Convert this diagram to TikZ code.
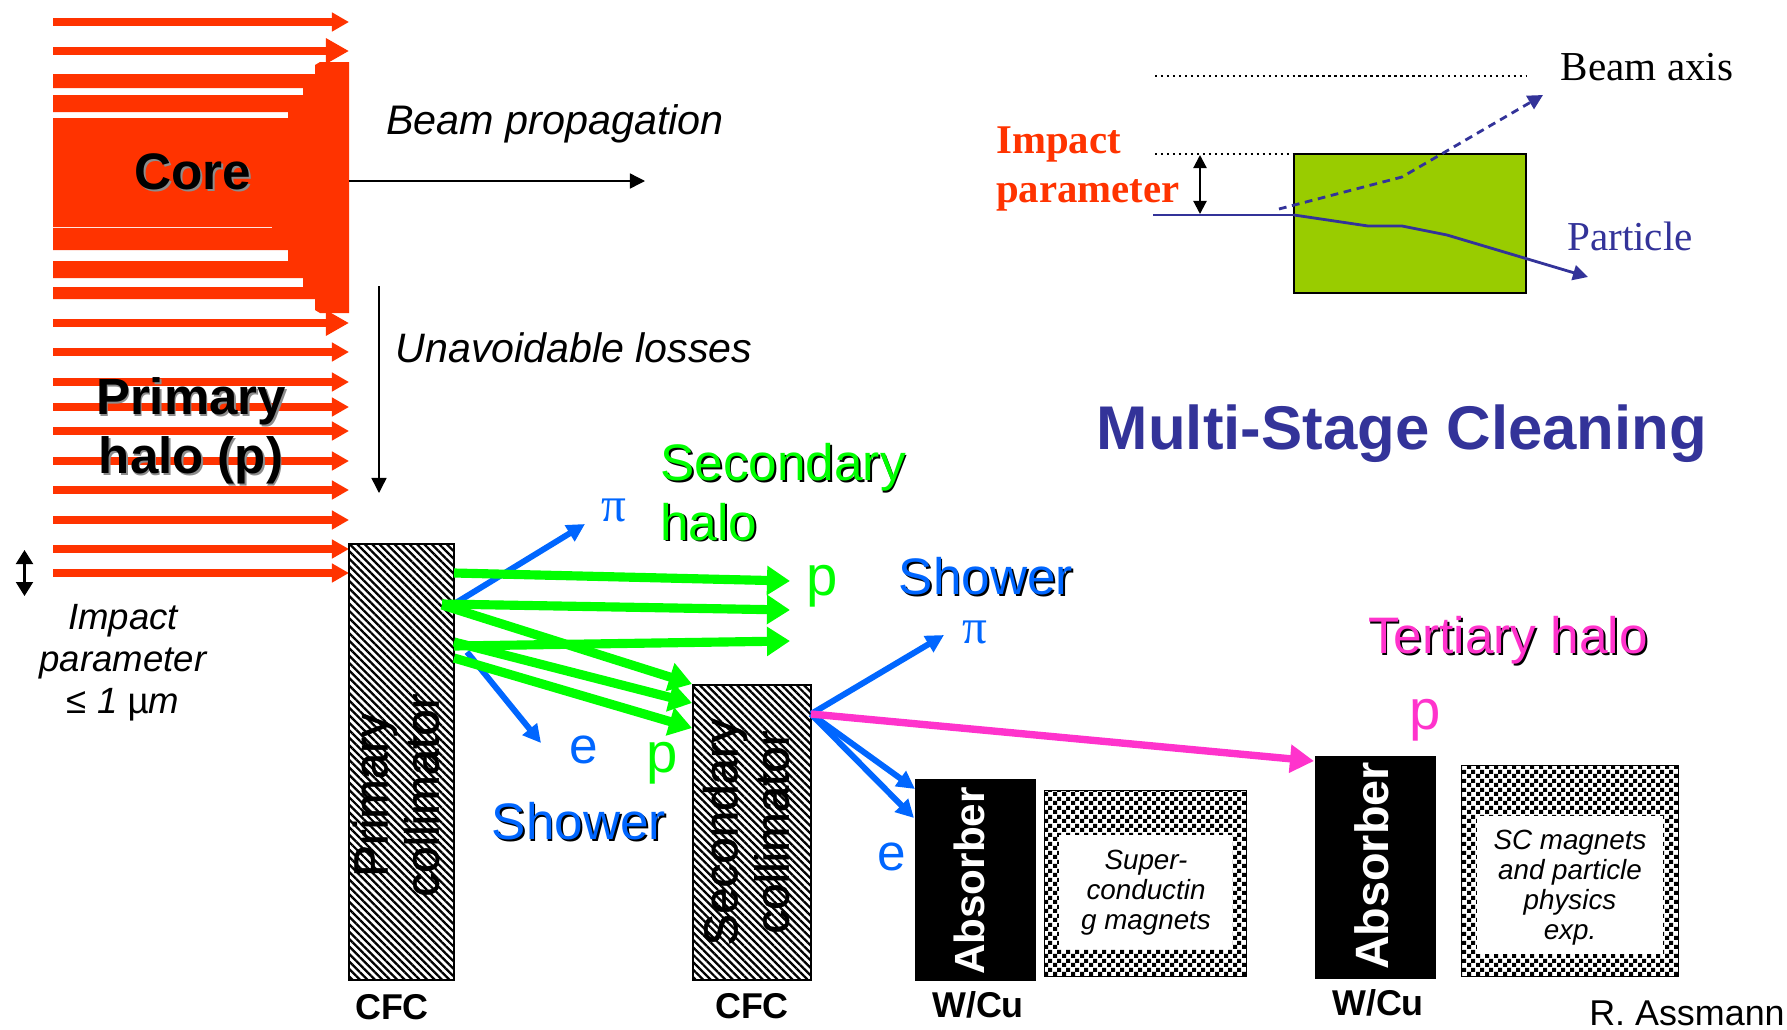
\documentclass[tikz,border=0pt]{standalone}
\usepackage{fontspec}
\setmainfont{Liberation Sans}
\newfontfamily\timesfont{Liberation Serif}
\newfontfamily\heavyfont[FakeBold=1]{Liberation Sans}
\usetikzlibrary{arrows.meta,patterns,patterns.meta}
\definecolor{beamred}{HTML}{FF3300}
\definecolor{halogreen}{HTML}{00FF00}
\definecolor{showerblue}{HTML}{0066FF}
\definecolor{halopink}{HTML}{FF33CC}
\definecolor{deepblue}{HTML}{333399}
\definecolor{targetgreen}{HTML}{99CC00}
\newcommand{\shadowed}[2]{\leavevmode\rlap{\kern0.5pt\raisebox{-0.5pt}{\textcolor{#1}{#2}}}#2}
\pgfdeclarepatternformonly{checks}{\pgfqpoint{0pt}{0pt}}{\pgfqpoint{2.56pt}{2.56pt}}{\pgfqpoint{2.56pt}{2.56pt}}{%
	\pgfpathrectangle{\pgfqpoint{0pt}{0pt}}{\pgfqpoint{1.28pt}{1.28pt}}%
	\pgfpathrectangle{\pgfqpoint{1.28pt}{1.28pt}}{\pgfqpoint{1.28pt}{1.28pt}}%
	\pgfusepath{fill}}
\tikzset{
	beam/.style={beamred,line width=2pt,-{Triangle[length=0.17cm,width=0.18cm]}},
	bigbeam/.style={beamred,line width=2.5pt,-{Triangle[length=0.23cm,width=0.24cm]}},
	thinarrow/.style={black,line width=0.4pt,-{Triangle[length=0.15cm,width=0.15cm]}},
	greenarrow/.style={halogreen,line width=2.6pt,-{Triangle[length=0.23cm,width=0.28cm]}},
	bluearrow/.style={showerblue,line width=1.7pt,-{Triangle[length=0.18cm,width=0.18cm]}},
	pinkarrow/.style={halopink,line width=2.1pt,-{Triangle[length=0.24cm,width=0.27cm]}},
	partarrow/.style={deepblue,line width=0.8pt,-{Triangle[length=0.15cm,width=0.15cm]}},
	collimator/.style={draw=black,line width=0.5pt,inner sep=0pt,pattern={Lines[angle=-45,distance=1.5pt,line width=0.65pt]}},
	absorber/.style={fill=black,draw=black,inner sep=0pt},
	magnet/.style={draw=black,line width=0.3pt,inner sep=0pt,pattern=checks},
	magnetin/.style={fill=white,inner sep=0pt},
	magnettxt/.style={align=center,font=\fontsize{7.9}{8.5}\selectfont\itshape},
	large/.style={font=\fontsize{14.6}{16.9}\selectfont},
	letter/.style={font=\fontsize{16}{18}\selectfont},
	collabel/.style={rotate=90,align=center,font=\fontsize{13.5}{14.6}\selectfont\heavyfont},
	abslabel/.style={rotate=90,white,font=\fontsize{12}{14}\selectfont\bfseries},
	material/.style={font=\fontsize{10.2}{12}\selectfont\bfseries},
	serif/.style={font=\fontsize{11.7}{14.2}\selectfont\timesfont},
	greek/.style={showerblue,font=\fontsize{14}{16}\selectfont\timesfont},
}
\begin{document}
\begin{tikzpicture}[x=0.01cm,y=-0.01cm]
	\useasboundingbox (0,0) rectangle (1787,1030);
	% core of the beam
	\fill[beamred] (349,62) -- (349,313) -- (320,313) -- (315,310) -- (315,299) -- (53,299) -- (53,287) -- (303,287) -- (303,278) -- (53,278) -- (53,261) -- (288,261) -- (288,250) -- (53,250) -- (53,228) -- (272,228) -- (272,227) -- (53,227) -- (53,118) -- (288,118) -- (288,112) -- (53,112) -- (53,95) -- (303,95) -- (303,88) -- (53,88) -- (53,74) -- (315,74) -- (315,65) -- (320,62) -- cycle;
	\coordinate (topa) at (53,22);
	\coordinate (topb) at (349,22);
	\draw[beam] (topa) -- (topb);
	\coordinate (seca) at (53,51);
	\coordinate (secb) at (349,51);
	\draw[bigbeam] (seca) -- (secb);
	\coordinate (lowa) at (53,323);
	\coordinate (lowb) at (349,323);
	\draw[bigbeam] (lowa) -- (lowb);
	% halo
	\foreach \y in {352,382,407,431,461,490,520,549,573} {
		\coordinate (a\y) at (53,\y);
		\coordinate (b\y) at (349,\y);
		\draw[beam] (a\y) -- (b\y);
	}
	\node[font=\fontsize{14.6}{16.8}\selectfont\bfseries] (core) at (193,173) {\shadowed{black!45}{Core}};
	\node[font=\fontsize{14.5}{16.8}\selectfont\bfseries,align=center] (primaryhalo) at (191,432) {\shadowed{black!45}{Primary}\\\shadowed{black!45}{halo (p)}};
	\coordinate (beamstart) at (349,181);
	\coordinate (beamend) at (645,181);
	\draw[thinarrow] (beamstart) -- (beamend);
	\node[font=\fontsize{11.75}{14}\selectfont\itshape] (propagation) at (555,124) {Beam propagation};
	\coordinate (lossstart) at (379,286);
	\coordinate (lossend) at (379,493);
	\draw[thinarrow] (lossstart) -- (lossend);
	\node[font=\fontsize{11.7}{14}\selectfont\itshape] (losses) at (574,348) {Unavoidable losses};
	\coordinate (impacttop) at (24.5,550);
	\coordinate (impactlow) at (24.5,596);
	\draw[black,line width=0.6pt,{Triangle[length=0.14cm,width=0.17cm]}-{Triangle[length=0.14cm,width=0.17cm]}] (impacttop) -- (impactlow);
	\node[font=\fontsize{10.4}{12}\selectfont\itshape,align=center] (impact) at (123,663) {Impact\\parameter\\≤ 1 {\upshape µ}m};
	% collimators and absorbers
	\node[collimator,minimum width=1.05cm,minimum height=4.36cm] (primary) at (401.5,762) {};
	\node[collimator,minimum width=1.18cm,minimum height=2.95cm] (secondary) at (752,832.5) {};
	\node[absorber,minimum width=1.19cm,minimum height=2cm] (absorbera) at (975.5,880) {};
	\node[absorber,minimum width=1.19cm,minimum height=2.21cm] (absorberb) at (1375.5,867.5) {};
	\node[magnet,minimum width=2.01cm,minimum height=1.85cm] (magneta) at (1145.5,883.5) {};
	\node[magnet,minimum width=2.16cm,minimum height=2.1cm] (magnetb) at (1570,871) {};
	\node[magnetin,minimum width=1.73cm,minimum height=1.14cm] (magnetawhite) at (1145.5,892) {};
	\node[magnetin,minimum width=1.86cm,minimum height=1.38cm] (magnetbwhite) at (1570,885) {};
	\node[magnettxt] (magnetatxt) at (1146,893) {Super-\\conductin\\g magnets};
	\node[magnettxt] (magnetbtxt) at (1570,888) {SC magnets\\and particle\\physics\\exp.};
	\node[collabel] (primarytxt) at (396,795) {Primary\\collimator};
	\node[collabel] (secondarytxt) at (746,832) {Secondary\\collimator};
	\node[abslabel] (absorberatxt) at (969,881) {Absorber};
	\node[abslabel,font=\fontsize{13.3}{14}\selectfont\bfseries] (absorberbtxt) at (1372,866) {Absorber};
	\node[material] (cfca) at (392,1007) {CFC};
	\node[material] (cfcb) at (752,1006) {CFC};
	\node[material] (wcua) at (978,1005) {W/Cu};
	\node[material] (wcub) at (1378,1003) {W/Cu};
	\node[font=\fontsize{10.2}{12}\selectfont] (author) at (1687,1013) {R. Assmann};
	% shower from the primary
	\coordinate (piastart) at (454,604);
	\coordinate (piaend) at (585,524);
	\draw[bluearrow] (piastart) -- (piaend);
	\coordinate (eastart) at (467,652);
	\coordinate (eaend) at (541,743);
	\draw[bluearrow] (eastart) -- (eaend);
	\node[greek] (pia) at (614,510) {π};
	\node[large,showerblue] (ea) at (584,750) {e};
	\node[large,showerblue] (showera) at (579,822) {\shadowed{black}{Shower}};
	% secondary halo
	\coordinate (ga) at (454,573);
	\coordinate (gb) at (790,581);
	\coordinate (gc) at (442,604);
	\coordinate (gd) at (790,610);
	\coordinate (ge) at (454,646);
	\coordinate (gf) at (790,641);
	\coordinate (gg) at (442,605);
	\coordinate (gh) at (692,684);
	\coordinate (gi) at (454,642);
	\coordinate (gj) at (692,703);
	\coordinate (gk) at (454,658);
	\coordinate (gl) at (692,728);
	\draw[greenarrow] (ga) -- (gb);
	\draw[greenarrow] (gc) -- (gd);
	\draw[greenarrow] (ge) -- (gf);
	\draw[greenarrow] (gg) -- (gh);
	\draw[greenarrow] (gi) -- (gj);
	\draw[greenarrow] (gk) -- (gl);
	\node[large,halogreen,align=left] (secondaryhalo) at (783,493) {\shadowed{black}{Secondary}\\\shadowed{black}{halo}};
	\node[letter,halogreen] (pa) at (822,586) {p};
	\node[letter,halogreen] (pb) at (662,763) {p};
	% shower and halo from the secondary
	\coordinate (exit) at (811,714);
	\coordinate (pibend) at (944,635);
	\coordinate (ebend) at (915,789);
	\coordinate (ecend) at (914,818);
	\coordinate (pinkend) at (1314,761);
	\draw[bluearrow] (exit) -- (pibend);
	\draw[bluearrow] (exit) -- (ebend);
	\draw[bluearrow] (exit) -- (ecend);
	\draw[pinkarrow] (exit) -- (pinkend);
	\node[greek] (pib) at (975,632) {π};
	\node[large,showerblue] (eb) at (892,857) {e};
	\node[large,showerblue] (showerb) at (986,577) {\shadowed{black}{Shower}};
	\node[large,halopink] (tertiary) at (1508,641) {\shadowed{black}{Tertiary halo}};
	\node[letter,halopink] (pc) at (1425,720) {p};
	\node[font=\fontsize{17.55}{20}\selectfont\bfseries,deepblue] (title) at (1402,434) {Multi-Stage Cleaning};
	% impact parameter sketch
	\node[fill=targetgreen,draw=black,line width=0.5pt,minimum width=2.32cm,minimum height=1.39cm,inner sep=0pt] (target) at (1410,223.5) {};
	\coordinate (axisa) at (1155,76);
	\coordinate (axisb) at (1527,76);
	\coordinate (edgea) at (1155,154);
	\coordinate (edgeb) at (1526,154);
	\draw[black,densely dotted,line width=0.7pt] (axisa) -- (axisb);
	\draw[black,densely dotted,line width=0.7pt] (edgea) -- (edgeb);
	\coordinate (arrowtop) at (1200,155);
	\coordinate (arrowlow) at (1200,214);
	\draw[black,line width=0.6pt,{Triangle[length=0.13cm,width=0.13cm]}-{Triangle[length=0.13cm,width=0.13cm]}] (arrowtop) -- (arrowlow);
	\coordinate (parta) at (1153,215);
	\coordinate (partb) at (1294,215);
	\coordinate (partc) at (1368,226);
	\coordinate (partd) at (1402,226);
	\coordinate (parte) at (1447,235);
	\coordinate (partf) at (1588,277);
	\draw[deepblue,line width=0.5pt] (parta) -- (partb);
	\draw[partarrow] (partb) -- (partc) -- (partd) -- (parte) -- (partf);
	\coordinate (dasha) at (1279,209);
	\coordinate (dashb) at (1402,177);
	\coordinate (dashc) at (1543,95);
	\draw[partarrow,dash pattern=on 2.2pt off 1.6pt] (dasha) -- (dashb) -- (dashc);
	\node[serif] (axislabel) at (1647,67) {Beam axis};
	\node[serif,deepblue] (particle) at (1630,236) {Particle};
	\node[font=\fontsize{11.6}{14.2}\selectfont\timesfont\bfseries,beamred,align=left] (impactred) at (1088,169) {Impact\\parameter};
\end{tikzpicture}
\end{document}
